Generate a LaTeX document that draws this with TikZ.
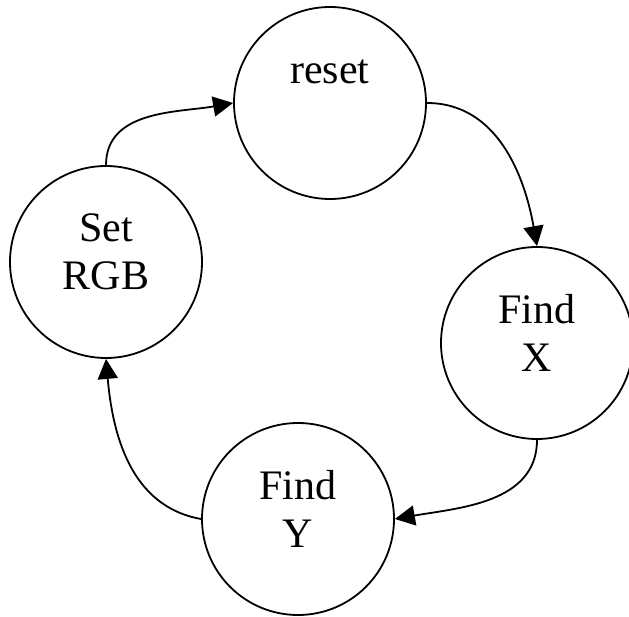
\documentclass[tikz,border=0pt]{standalone}
\usepackage{fontspec}
\setmainfont{Liberation Serif}
\usetikzlibrary{arrows.meta,positioning}

\begin{document}
\begin{tikzpicture}[x=1pt,y=1pt]
\useasboundingbox (0,0) rectangle (629,616);
\tikzstyle{state}=[circle, draw, line width=1.8pt, minimum size=192pt, inner sep=0pt,
  align=center, font=\fontsize{42}{48}\selectfont]
\tikzstyle{two lines}=[text depth=20pt]
\tikzstyle{move}=[line width=1.8pt, -{Triangle[length=20pt,width=20pt]}]
\node[state] (reset)  at (330,513) {reset\\ \strut};
\node[state,two lines] (findx)  at (537,273) {Find\\X};
\node[state,two lines] (findy)  at (298,97)  {Find\\Y};
\node[state,two lines] (setrgb) at (106,354) {Set\\RGB};
\draw[move] (setrgb.north) to[out=90,in=190] (reset.west);
\draw[move] (reset.east) to[out=0,in=100] (findx.north);
\draw[move] (findx.south) to[out=-90,in=10] (findy.east);
\draw[move] (findy.west) to[out=170,in=-85] (setrgb.south);
\end{tikzpicture}
\end{document}
